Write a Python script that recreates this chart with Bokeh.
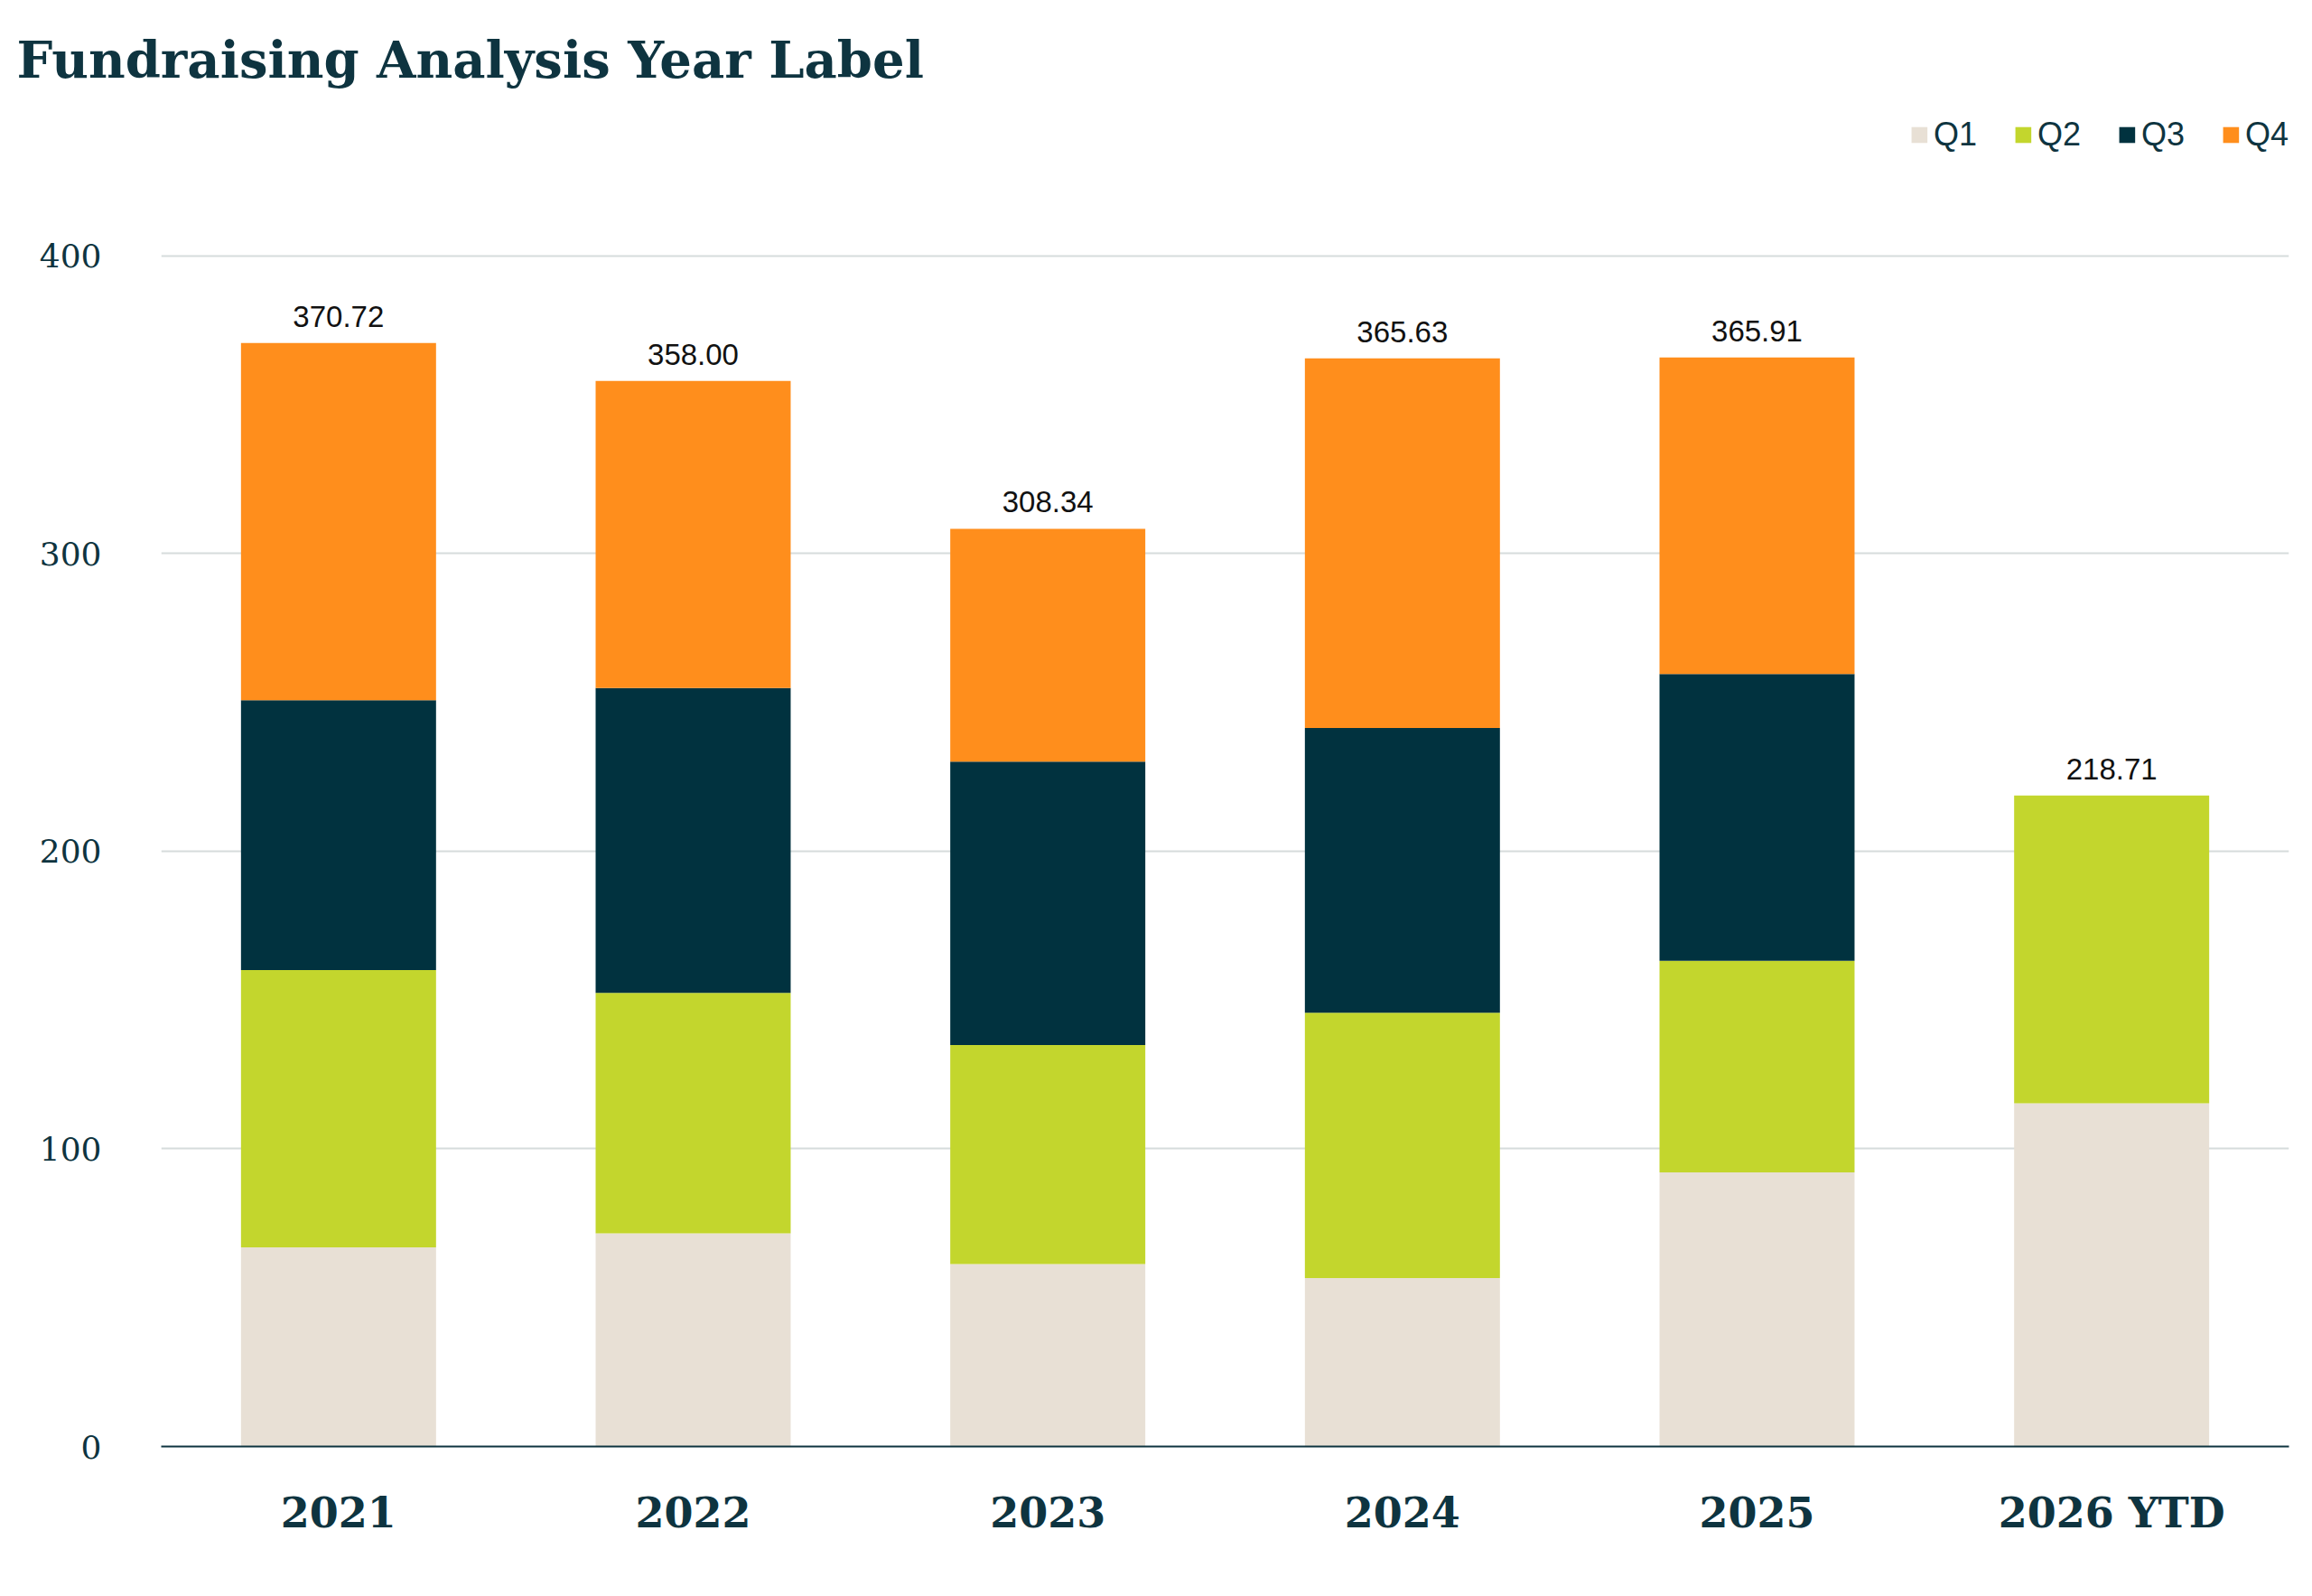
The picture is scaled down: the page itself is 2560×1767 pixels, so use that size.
from bokeh.plotting import figure
from bokeh.models import ColumnDataSource, Label, Legend, LegendItem, SingleIntervalTicker
from bokeh.core.properties import value
from bokeh.embed import file_html
from bokeh.resources import INLINE

years = ["2021", "2022", "2023", "2024", "2025", "2026 YTD"]
q1 = [66.9, 71.6, 61.3, 56.6, 92.1, 115.3]
q2 = [93.2, 80.8, 73.6, 89.1, 71.1, 103.41]
q3 = [90.6, 102.4, 95.2, 95.7, 96.3, 0.0]
q4 = [120.02, 103.2, 78.24, 124.23, 106.41, 0.0]
totals = [370.72, 358.00, 308.34, 365.63, 365.91, 218.71]
quarters = ["Q1", "Q2", "Q3", "Q4"]
colors = ["#E8E0D5", "#C3D62D", "#01323F", "#FF8E1C"]

src = ColumnDataSource(dict(year=years, Q1=q1, Q2=q2, Q3=q3, Q4=q4, total=totals,
                            lab=["%.2f" % t for t in totals]))

p = figure(x_range=years, y_range=(0, 447), width=2544, height=1751,
           output_backend="svg", toolbar_location=None,
           min_border_left=178, min_border_right=10, min_border_bottom=150)
p.title.text = "Fundraising Analysis Year Label"
p.title.text_font = "DejaVu Serif"
p.title.text_font_size = "56px"
p.title.text_color = "#0E3440"
p.title.offset = -160
p.title.standoff = 60
p.outline_line_color = None
p.background_fill_color = "white"

rs = p.vbar_stack(quarters, x="year", width=0.55, color=colors, source=src, line_color=None)
p.text(x="year", y="total", text="lab", source=src, text_align="center",
       text_baseline="bottom", y_offset=-18, text_font=value("Liberation Sans"),
       text_font_size="33px", text_color="#111111")

legend = Legend(items=[LegendItem(label=q, renderers=[r]) for q, r in zip(quarters, rs)],
                orientation="horizontal", location="top_right",
                label_text_font="Liberation Sans", label_text_font_size="36px",
                label_text_color="#0E3440", glyph_width=22, glyph_height=22,
                spacing=40, border_line_color=None, background_fill_alpha=0,
                padding=0, margin=0)
p.add_layout(legend)

p.add_layout(Label(x=-140, y=432, x_units="screen", y_units="data", text="($bn)",
                   text_font="DejaVu Serif", text_font_size="32px",
                   text_color="#0E3440", text_baseline="middle"))

p.yaxis.ticker = SingleIntervalTicker(interval=100)
p.yaxis.axis_line_color = None
p.yaxis.major_tick_line_color = None
p.yaxis.minor_tick_line_color = None
p.yaxis.major_label_text_font = "DejaVu Serif"
p.yaxis.major_label_text_font_size = "36px"
p.yaxis.major_label_text_color = "#0E3440"
p.yaxis.major_label_standoff = 60
p.xaxis.axis_line_color = "#0E3440"
p.xaxis.axis_line_width = 2
p.xaxis.major_tick_line_color = None
p.xaxis.major_label_text_font = "DejaVu Serif"
p.xaxis.major_label_text_font_style = "bold"
p.xaxis.major_label_text_font_size = "46px"
p.xaxis.major_label_text_color = "#0E3440"
p.xaxis.major_label_standoff = 40
p.xgrid.grid_line_color = None
p.ygrid.grid_line_color = "#D6DCDC"
p.ygrid.grid_line_width = 2
p.x_range.range_padding = 0.0

open("out.html", "w").write(file_html(p, INLINE))
